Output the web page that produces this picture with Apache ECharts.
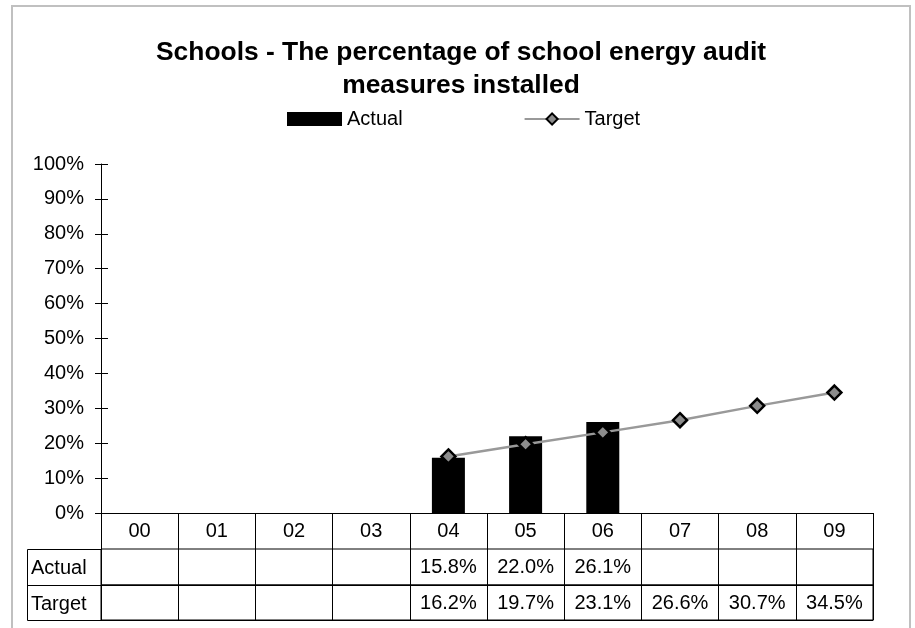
<!DOCTYPE html>
<html>
<head>
<meta charset="utf-8">
<style>
  html, body { margin: 0; padding: 0; background: #fff; }
  #chart { width: 915px; height: 628px; }
</style>
<script src="https://cdn.jsdelivr.net/npm/echarts@6/dist/echarts.min.js"></script>
</head>
<body>
<div id="chart"></div>
<script>
  // categories (years) and the two series, in percent
  var years = ['00', '01', '02', '03', '04', '05', '06', '07', '08', '09'];
  var actual = [null, null, null, null, 15.8, 22.0, 26.1, null, null, null];
  var target = [null, null, null, null, 16.2, 19.7, 23.1, 26.6, 30.7, 34.5];
  var rowNames = ['Actual', 'Target'];

  var font = 'Liberation Sans, Arial, sans-serif';

  //table cell text
  function cell(arr) {
    return function (value, index) {
      return arr[index] == null ? '' : arr[index].toFixed(1) + '%';
    };
  }

  // one row of the data table = its own grid under the plot
  function rowAxis(grid, formatter) {
    return {
      type: 'category',
      gridIndex: grid,
      position: 'top',
      data: years,
      boundaryGap: true,
      axisLine: { show: true, lineStyle: { color: '#000', width: 1 } },
      axisTick: { show: false },
      axisLabel: {
        inside: true, interval: 0, margin: 8, color: '#000', fontSize: 20, fontFamily: font,
        formatter: formatter
      },
      splitLine: { show: true, interval: 0, lineStyle: { color: '#000', width: 1 } }
    };
  }

  function hiddenY(grid) {
    return { type: 'value', gridIndex: grid, show: false, min: 0, max: 1 };
  }

  var myChart = echarts.init(document.getElementById('chart'));
  myChart.setOption({
    animation: false,
    title: {
      text: 'Schools - The percentage of school energy audit\nmeasures installed',
      left: 461,
      textAlign: 'center',
      top: 36,
      padding: 0,
      textStyle: { fontSize: 26.4, fontWeight: 'bold', color: '#000', fontFamily: font, lineHeight: 33 }
    },
    legend: {
      data: [
        { name: 'Actual', icon: 'rect' },
        { name: 'Target' }
      ],
      left: 287,
      top: 109,
      padding: 0,
      itemWidth: 55,
      itemHeight: 14,
      itemGap: 121,
      textStyle: { fontSize: 20, color: '#000', fontFamily: font }
    },
    grid: [
      { left: 101, right: 42, top: 164, bottom: 115 },
      { left: 101, right: 42, top: 549, height: 36, show: true, borderColor: '#000', borderWidth: 1, backgroundColor: 'transparent' },
      { left: 101, right: 42, top: 585, height: 35, show: true, borderColor: '#000', borderWidth: 1, backgroundColor: 'transparent' }
    ],
    xAxis: [{
      type: 'category',
      data: years,
      boundaryGap: true,
      axisLine: { lineStyle: { color: '#000', width: 1 } },
      axisTick: { show: true, interval: 0, length: 36, lineStyle: { color: '#000' } },
      axisLabel: { interval: 0, margin: 8, color: '#000', fontSize: 20, fontFamily: font },
      splitLine: { show: false }
    },
      rowAxis(1, cell(actual)),
      rowAxis(2, cell(target))
    ],
    yAxis: [{
      type: 'value',
      min: 0,
      max: 100,
      interval: 10,
      axisLine: { show: true, lineStyle: { color: '#000', width: 1 } },
      axisTick: { show: true, length: 6, lineStyle: { color: '#000' } },
      axisLabel: { margin: 17, color: '#000', fontSize: 20, fontFamily: font, formatter: '{value}%' },
      splitLine: { show: false }
    }, {
      type: 'value',
      position: 'left',
      offset: 0,
      min: 0,
      max: 100,
      interval: 10,
      axisLine: { show: false },
      axisTick: { show: true, inside: true, length: 7, lineStyle: { color: '#000' } },
      axisLabel: { show: false },
      splitLine: { show: false }
    },
      hiddenY(1),
      hiddenY(2)
    ],
    series: [{
      name: 'Actual',
      type: 'bar',
      data: actual,
      barWidth: 33,
      itemStyle: { color: '#000' }
    }, {
      name: 'Target',
      type: 'line',
      data: target,
      symbol: 'diamond',
      symbolSize: 14,
      lineStyle: { color: '#999', width: 2.5 },
      itemStyle: { color: '#8c8c8c', borderColor: '#000', borderWidth: 2.5 }
    }],
    graphic: [
      {
        type: 'rect', silent: true, z: 100,
        shape: { x: 12, y: 6, width: 898, height: 650 },
        style: { fill: 'none', stroke: '#c0c0c0', lineWidth: 2 }
      },
      {
        type: 'rect', silent: true,
        shape: { x: 27.5, y: 549.5, width: 74, height: 71 },
        style: { fill: 'none', stroke: '#000', lineWidth: 1 }
      },
      {
        type: 'line', silent: true,
        shape: { x1: 27.5, y1: 585.5, x2: 101, y2: 585.5 },
        style: { stroke: '#000', lineWidth: 1 }
      },
      {
        type: 'text', silent: true, x: 31, y: 568,
        style: { text: rowNames[0], fontSize: 20, fontFamily: font, fill: '#000', verticalAlign: 'middle' }
      },
      {
        type: 'text', silent: true, x: 31, y: 604,
        style: { text: rowNames[1], fontSize: 20, fontFamily: font, fill: '#000', verticalAlign: 'middle' }
      }
    ]
  });
</script>
</body>
</html>
